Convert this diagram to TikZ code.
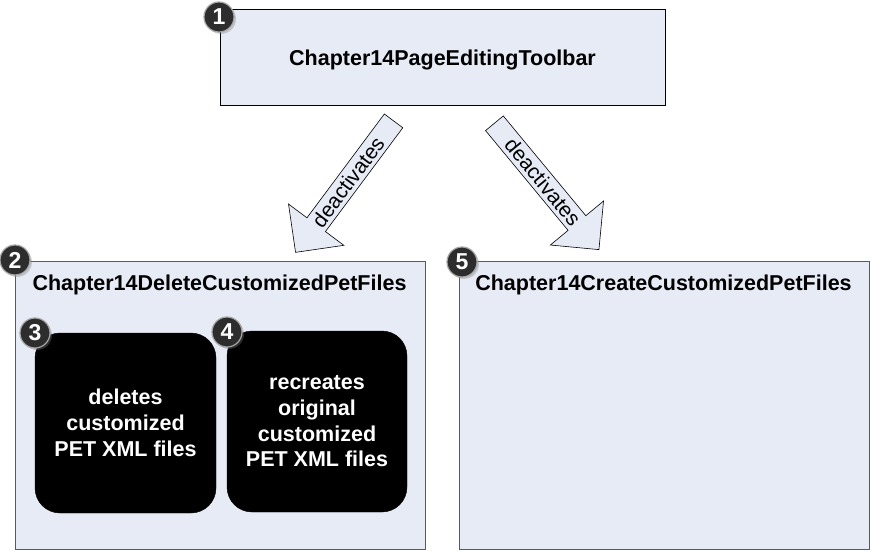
\documentclass[tikz,border=0pt]{standalone}
\usepackage{fontspec}
\setmainfont{Liberation Sans}
\usetikzlibrary{shapes.arrows,shadows}
\definecolor{boxfill}{RGB}{231,235,246}
\definecolor{boxline}{RGB}{90,90,90}
\definecolor{badgefill}{RGB}{45,45,45}
\tikzset{
  panel/.style={draw=boxline,line width=1pt,fill=boxfill,rectangle,inner sep=0pt},
  titletext/.style={font=\bfseries\fontsize{21.5}{24}\selectfont,inner sep=0pt,anchor=base},
  blackbox/.style={fill=black,draw=black,rounded corners=25pt,inner sep=0pt,
    text=white,align=center,font=\bfseries\fontsize{21.5}{25.7}\selectfont},
  badge/.style={circle,fill=badgefill,draw=gray!70,line width=1.2pt,minimum size=30pt,inner sep=0pt,
    text=white,font=\bfseries\fontsize{23}{23}\selectfont,
    drop shadow={shadow xshift=2pt,shadow yshift=-2pt,opacity=0.35}},
  deact/.style={single arrow,draw=black,line width=0.6pt,fill=boxfill,
    font=\fontsize{21}{21}\selectfont,inner ysep=3.5pt,inner xsep=2pt,
    single arrow head extend=23pt,single arrow tip angle=90,
    minimum height=164pt}
}
\begin{document}
\begin{tikzpicture}[x=1pt,y=-1pt]
\useasboundingbox (0,0) rectangle (882,559);
% top box
\node[panel,draw=black,minimum width=445pt,minimum height=96pt] (top) at (442.5,58) {};
\node[font=\bfseries\fontsize{21.5}{24}\selectfont,inner sep=0pt] (toptxt) at (442.5,60) {Chapter14PageEditingToolbar};
% bottom panels
\node[panel,minimum width=410pt,minimum height=288pt] (del) at (220,405) {};
\node[titletext] (deltxt) at (219.5,290) {Chapter14DeleteCustomizedPetFiles};
\node[panel,minimum width=410pt,minimum height=288pt] (cre) at (664,405) {};
\node[titletext] (cretxt) at (663.5,290) {Chapter14CreateCustomizedPetFiles};
% black boxes
\node[blackbox,minimum width=181pt,minimum height=180pt] (b3) at (125.5,423) {deletes\\customized\\PET XML files};
\node[blackbox,minimum width=180pt,minimum height=181pt] (b4) at (317,421.5) {recreates\\original\\customized\\PET XML files};
% arrows
\node[deact,rotate=53.3,shape border rotate=180] (a1) at (348,182) {deactivates};
\node[deact,rotate=-50.4] (a2) at (543,182) {deactivates};
% badges
\node[badge] (n1) at (219,17) {1};
\node[badge] (n2) at (15,260) {2};
\node[badge] (n3) at (35,333) {3};
\node[badge] (n4) at (227,332) {4};
\node[badge] (n5) at (462,262) {5};
\end{tikzpicture}
\end{document}
